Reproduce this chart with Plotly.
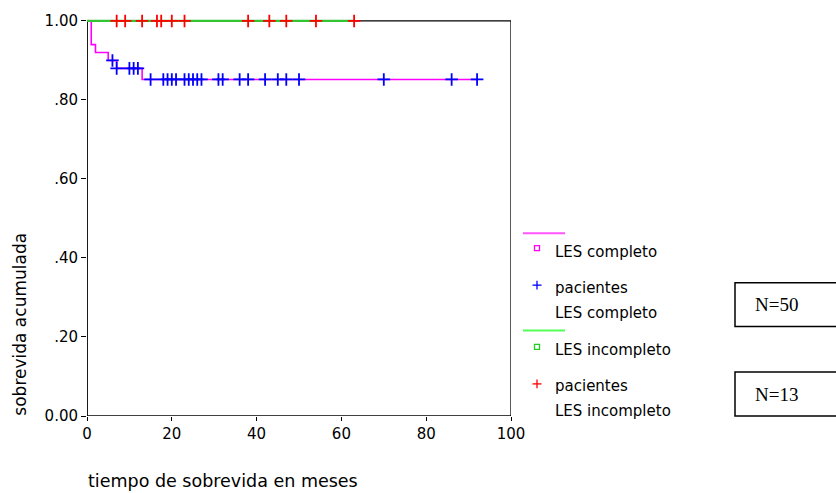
import numpy as np
import plotly.graph_objects as go

# ---------------- data ----------------
completo_t = [0, 1, 2, 5, 7, 13, 92]
completo_s = [1.0, 0.94, 0.92, 0.90, 0.88, 0.852, 0.852]
completo_cens_t = [6, 7, 10, 11, 12, 15, 18, 19, 20, 21, 23, 24, 25, 26, 27,
                   31, 32, 36, 38, 42, 45, 47, 50, 70, 86, 92]

incompleto_t = [0, 63]
incompleto_s = [1.0, 1.0]
incompleto_cens_t = [7, 9, 13, 16.5, 17.5, 20, 23, 38, 43, 47, 54, 63]

x_ticks = [0, 20, 40, 60, 80, 100]
y_ticks = [0, 0.2, 0.4, 0.6, 0.8, 1.0]
y_tick_labels = ["0.00", ".20", ".40", ".60", ".80", "1.00"]


def step_value(times, surv, t):
    idx = np.searchsorted(np.array(times), t, side="right") - 1
    return surv[idx]


completo_cens_s = [step_value(completo_t, completo_s, t) for t in completo_cens_t]
incompleto_cens_s = [step_value(incompleto_t, incompleto_s, t) for t in incompleto_cens_t]

PINK = "#ff00ff"
BLUE = "#0000ff"
GREEN = "#33c433"
RED = "#ff0000"

YMAX = 1.0075
W, H = 836, 493
L, R, B = 87, 325, 77
PW = W - L - R
PH = 400 * YMAX
T = H - B - PH


def px(x):
    return (x - L) / PW


def py(y):
    return (H - B - y) / PH


fig = go.Figure()

fig.add_trace(go.Scatter(x=completo_t, y=completo_s, mode="lines",
                         line=dict(color=PINK, width=1.6, shape="hv"),
                         cliponaxis=False, showlegend=False))
fig.add_trace(go.Scatter(x=completo_cens_t, y=completo_cens_s, mode="markers",
                         marker=dict(symbol="cross-thin", size=9, color=BLUE,
                                     line=dict(color=BLUE, width=1.8)),
                         cliponaxis=False, showlegend=False))
fig.add_trace(go.Scatter(x=incompleto_t, y=incompleto_s, mode="lines",
                         line=dict(color=GREEN, width=2.2, shape="hv"),
                         cliponaxis=False, showlegend=False))
fig.add_trace(go.Scatter(x=incompleto_cens_t, y=incompleto_cens_s, mode="markers",
                         marker=dict(symbol="cross-thin", size=9, color=RED,
                                     line=dict(color=RED, width=1.8)),
                         cliponaxis=False, showlegend=False))

FONT = "DejaVu Sans"
shapes = []
annotations = []

# plot frame (drawn below the curves, in data coordinates)
for (x0, y0, x1, y1, w) in [(0, 0, 0, 1, 1.8), (0, 1, 100, 1, 1.3),
                            (100, 0, 100, 1, 1.3), (0, 0, 100, 0, 1.4)]:
    shapes.append(dict(type="line", xref="x", yref="y", x0=x0, y0=y0,
                       x1=x1, y1=y1, layer="below",
                       line=dict(color="black", width=w)))


def hline(x0, x1, y, color, width=2):
    shapes.append(dict(type="line", xref="paper", yref="paper",
                       x0=px(x0), x1=px(x1), y0=py(y), y1=py(y),
                       line=dict(color=color, width=width)))


def square(cx, cy, color, s=5):
    shapes.append(dict(type="rect", xref="paper", yref="paper",
                       x0=px(cx - s / 2), x1=px(cx + s / 2),
                       y0=py(cy + s / 2), y1=py(cy - s / 2),
                       line=dict(color=color, width=1.3)))


def cross(cx, cy, color, a=4.5):
    shapes.append(dict(type="line", xref="paper", yref="paper",
                       x0=px(cx - a), x1=px(cx + a), y0=py(cy), y1=py(cy),
                       line=dict(color=color, width=1.3)))
    shapes.append(dict(type="line", xref="paper", yref="paper",
                       x0=px(cx), x1=px(cx), y0=py(cy - a), y1=py(cy + a),
                       line=dict(color=color, width=1.3)))


def text(x, y, s, size=15, family=FONT, anchor="left", angle=0):
    annotations.append(dict(xref="paper", yref="paper", x=px(x), y=py(y),
                            text=s, showarrow=False, xanchor=anchor,
                            yanchor="middle", textangle=angle,
                            font=dict(family=family, size=size, color="black")))


# legend
hline(523, 565, 231, "#ff55ff")
square(537, 246, PINK)
text(553, 250, "LES completo")
cross(537, 283.5, BLUE)
text(553, 286, "pacientes")
text(553, 312, "LES completo")
hline(523, 565, 329.5, "#55ff55")
square(537, 346, "#22cc22")
text(553, 349, "LES incompleto")
cross(537, 383.5, RED)
text(553, 385.5, "pacientes")
text(553, 411, "LES incompleto")

# N boxes
for (y0, y1, lab) in [(281, 325.5, "N=50"), (371.5, 416, "N=13")]:
    shapes.append(dict(type="rect", xref="paper", yref="paper",
                       x0=px(735), x1=px(850), y0=py(y1), y1=py(y0),
                       line=dict(color="black", width=1.5)))
    text(753, (y0 + y1) / 2, lab, size=19, family="Liberation Serif")

# axis titles
text(20, 323.5, "sobrevida acumulada", size=17, anchor="center", angle=-90)
text(86, 482, "tiempo de sobrevida en meses", size=17.5)

fig.update_layout(
    width=W, height=H,
    margin=dict(l=L, r=R, t=T, b=B, pad=0),
    paper_bgcolor="white", plot_bgcolor="white",
    shapes=shapes, annotations=annotations,
    showlegend=False,
    xaxis=dict(range=[0, 100], tickvals=x_ticks, ticks="outside", ticklen=4,
               tickcolor="black", tickwidth=1.2, showgrid=False, zeroline=False,
               showline=False,
               tickfont=dict(family=FONT, size=15, color="black")),
    yaxis=dict(range=[0, YMAX], tickvals=y_ticks, ticktext=y_tick_labels,
               ticks="outside", ticklen=5, tickcolor="black", tickwidth=1.2,
               showgrid=False, zeroline=False, showline=False,
               tickfont=dict(family=FONT, size=15, color="black")),
)

fig.write_html(
    "out.html",
    config={"displayModeBar": False},
    post_script="document.body.style.margin='0';document.body.style.padding='0';"
                "document.body.style.overflow='hidden';"
                "var d=document.getElementById('{plot_id}');"
                "if(d&&d.parentElement){d.parentElement.style.margin='0';"
                "d.parentElement.style.padding='0';}",
)
